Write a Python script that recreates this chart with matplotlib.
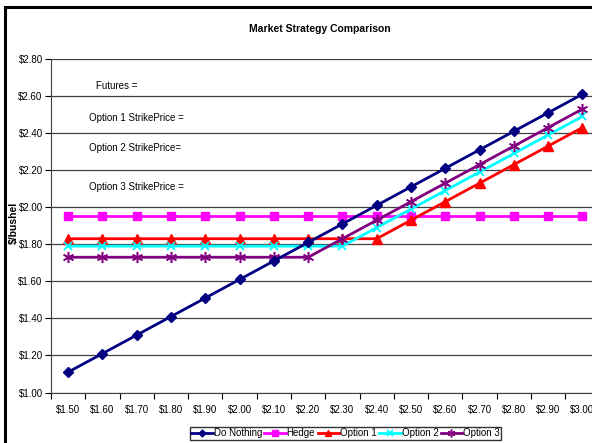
import matplotlib
matplotlib.use('Agg')
import matplotlib.pyplot as plt
from matplotlib.patches import Rectangle

plt.rcParams['font.family'] = ['Liberation Sans', 'DejaVu Sans']

# cash price categories and net price per strategy
prices = ['$1.50', '$1.60', '$1.70', '$1.80', '$1.90', '$2.00', '$2.10', '$2.20',
          '$2.30', '$2.40', '$2.50', '$2.60', '$2.70', '$2.80', '$2.90', '$3.00']
do_nothing = [1.11, 1.21, 1.31, 1.41, 1.51, 1.61, 1.71, 1.81,
              1.91, 2.01, 2.11, 2.21, 2.31, 2.41, 2.51, 2.61]
hedge = [1.95, 1.95, 1.95, 1.95, 1.95, 1.95, 1.95, 1.95,
         1.95, 1.95, 1.95, 1.95, 1.95, 1.95, 1.95, 1.95]
option1 = [1.83, 1.83, 1.83, 1.83, 1.83, 1.83, 1.83, 1.83,
           1.83, 1.83, 1.93, 2.03, 2.13, 2.23, 2.33, 2.43]
option2 = [1.79, 1.79, 1.79, 1.79, 1.79, 1.79, 1.79, 1.79,
           1.79, 1.89, 1.99, 2.09, 2.19, 2.29, 2.39, 2.49]
option3 = [1.73, 1.73, 1.73, 1.73, 1.73, 1.73, 1.73, 1.73,
           1.83, 1.93, 2.03, 2.13, 2.23, 2.33, 2.43, 2.53]
y_ticks = [1.00, 1.20, 1.40, 1.60, 1.80, 2.00, 2.20, 2.40, 2.60, 2.80]
notes = ['Futures =', 'Option 1 StrikePrice =', 'Option 2 StrikePrice=', 'Option 3 StrikePrice =']

W, H = 592, 443
fig = plt.figure(figsize=(W / 100, H / 100), dpi=100)

# chart area border (cut off on the right and bottom like the screenshot)
fig.patches.append(Rectangle((5 / W, -0.1), 1.2, 1 - 7 / H + 0.1, transform=fig.transFigure,
                             fill=False, edgecolor='black', lw=2.2, zorder=0))

ax = fig.add_axes([51 / W, (H - 392.5) / H, 548.6 / W, 333.5 / H])
x = [i + 0.5 for i in range(len(prices))]

ax.plot(x, do_nothing, color='#000080', marker='D', ms=5, lw=2, label='Do Nothing', zorder=6)
ax.plot(x, hedge, color='#FF00FF', marker='s', ms=6, lw=2, label='Hedge', zorder=3)
ax.plot(x, option1, color='#FF0000', marker='^', ms=6.5, lw=2, label='Option 1', zorder=4)
ax.plot(x, option2, color='#00FFFF', marker='x', ms=6, mew=1.3, lw=2, label='Option 2', zorder=4)
ax.plot(x, option3, color='#800080', marker=(6, 2, 0), ms=8, mew=1.1, lw=2, label='Option 3', zorder=5)

ax.set_xlim(0, len(prices))
ax.set_ylim(1.0, 2.8)
ax.set_xticks(range(len(prices)))
ax.set_xticks(x, minor=True)
ax.set_xticklabels([])
ax.set_xticklabels(prices, minor=True)
ax.tick_params(axis='x', which='major', direction='out', length=4, width=0.8)
ax.tick_params(axis='x', which='minor', length=0, pad=9, labelsize=7)
ax.set_yticks(y_ticks)
ax.set_yticklabels(['$%.2f' % v for v in y_ticks], fontsize=7)
ax.tick_params(axis='y', direction='out', length=4, width=0.8, pad=2)
ax.grid(axis='y', color='#404040', lw=0.9)
ax.set_axisbelow(True)
for s in ['top', 'right']:
    ax.spines[s].set_visible(False)
ax.spines['left'].set_color('#404040')
ax.spines['bottom'].set_color('#404040')

ax.set_ylabel('$/bushel', fontsize=7.5, fontweight='bold')
ax.yaxis.set_label_coords(-32 / 548.6, 0.51)

fig.text(320 / W, 1 - 29 / H, 'Market Strategy Comparison', ha='center', va='center',
         fontsize=7.5, fontweight='bold')
for (tx, ty), t in zip([(96, 86), (89, 118), (89, 148), (89, 187)], notes):
    fig.text(tx / W, 1 - ty / H, t, ha='left', va='center', fontsize=7)

leg = fig.legend(loc='center', bbox_to_anchor=(345.5 / W, 1 - 433.5 / H), ncol=5, fontsize=7,
                 frameon=True, fancybox=False, edgecolor='black', handlelength=2.2,
                 markerscale=0.7, handletextpad=0.1, columnspacing=0.25, borderpad=0.15,
                 borderaxespad=0)
leg.get_frame().set_linewidth(1)

fig.savefig('out.png', dpi=100)
